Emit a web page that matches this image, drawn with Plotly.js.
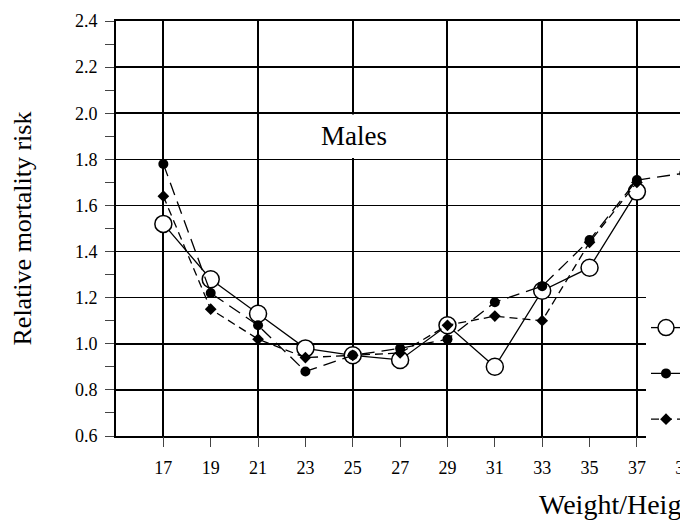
<!DOCTYPE html>
<html>
<head>
<meta charset="utf-8">
<script src="https://cdn.plot.ly/plotly-3.0.1.min.js"></script>
<style>
  html, body { margin: 0; padding: 0; background: #fff; }
  #wrap { width: 680px; height: 531px; overflow: hidden; position: relative; }
  #chart { width: 900px; height: 531px; }
</style>
</head>
<body>
<div id="wrap"><div id="chart"></div></div>
<script>
// Body-mass index categories (Weight/Height^2)
const bmiOpen = [17, 19, 21, 23, 25, 27, 29, 31, 33, 35, 37];
const riskOpen = [1.52, 1.28, 1.13, 0.98, 0.95, 0.93, 1.08, 0.90, 1.23, 1.33, 1.66];

const bmiFilled = [17, 19, 21, 23, 25, 27, 29, 31, 33, 35, 37, 39];
const riskFilled = [1.78, 1.22, 1.08, 0.88, 0.95, 0.98, 1.02, 1.18, 1.25, 1.45, 1.71, 1.74];

const bmiDiamond = [17, 19, 21, 23, 25, 27, 29, 31, 33, 35, 37];
const riskDiamond = [1.64, 1.15, 1.02, 0.94, 0.95, 0.96, 1.08, 1.12, 1.10, 1.44, 1.70];

const xTickVals = [17, 19, 21, 23, 25, 27, 29, 31, 33, 35, 37, 39, 41, 43, 45];
const xGridVals = [17, 21, 25, 29, 33, 37, 41, 45];
const yTickVals = [0.6, 0.8, 1.0, 1.2, 1.4, 1.6, 1.8, 2.0, 2.2, 2.4];
const yTickText = ['0.6', '0.8', '1.0', '1.2', '1.4', '1.6', '1.8', '2.0', '2.2', '2.4'];

const seriesNames = ['Series 1', 'Series 2', 'Series 3'];
const panelLabel = 'Males';
const xTitle = 'Weight/Height\u00B2 (kg/m\u00B2)';
const yTitle = 'Relative mortality risk';

const serif = 'Liberation Serif';

const traces = [
  {
    x: bmiOpen, y: riskOpen, name: seriesNames[0], legendgroup: 'a',
    mode: 'lines+markers', type: 'scatter',
    line: { color: '#000', width: 1.3, dash: 'solid' },
    marker: { symbol: 'circle', size: 17, color: '#fff', line: { color: '#000', width: 1.5 } }
  },
  {
    x: bmiFilled, y: riskFilled, name: seriesNames[1], legendgroup: 'b',
    mode: 'lines+markers', type: 'scatter',
    line: { color: '#000', width: 1.3, dash: '13px,7px' },
    marker: { symbol: 'circle', size: 10, color: '#000' }
  },
  {
    x: bmiDiamond, y: riskDiamond, name: seriesNames[2], legendgroup: 'c',
    mode: 'lines+markers', type: 'scatter',
    line: { color: '#000', width: 1.3, dash: '8px,5px' },
    marker: { symbol: 'diamond', size: 9, color: '#000' }
  },
  { x: [null], y: [null], xaxis: 'x2', showlegend: false, type: 'scatter', mode: 'markers' }
];

const layout = {
  width: 900, height: 531,
  margin: { l: 116, r: 50, t: 21, b: 95 },
  font: { family: serif, size: 18, color: '#000' },
  showlegend: true,
  legend: {
    x: (646 - 116) / 734, y: 1 - (286 - 21) / 415, xanchor: 'left', yanchor: 'top',
    bgcolor: '#fff', borderwidth: 0,
    title: { text: ' ', font: { family: serif, size: 14 } },
    font: { family: serif, size: 26, color: '#000' },
    tracegroupgap: 9
  },
  xaxis: {
    range: [15, 46], tickvals: xTickVals, showgrid: false,
    ticks: 'outside', ticklen: 9, ticklabelstandoff: 5,
    showline: true, linewidth: 2, linecolor: '#000', mirror: true,
    tickfont: { family: serif, size: 18 }
  },
  xaxis2: {
    overlaying: 'x', anchor: 'y', range: [15, 46],
    tickvals: xGridVals, showgrid: true, gridcolor: '#000', gridwidth: 2,
    showticklabels: false, ticks: 'outside', ticklen: 9
  },
  yaxis: {
    range: [0.6, 2.4], tickvals: yTickVals, ticktext: yTickText,
    showgrid: true, gridcolor: '#000', gridwidth: 1.5,
    ticks: 'outside', ticklen: 9, ticklabelstandoff: 4,
    minor: { dtick: 0.1, ticks: 'outside', ticklen: 9 },
    showline: true, linewidth: 2, linecolor: '#000',
    tickfont: { family: serif, size: 18 }
  },
  shapes: [
    { type: 'rect', xref: 'x', yref: 'y', x0: 22.35, x1: 27.63, y0: 1.806, y1: 1.994,
      fillcolor: '#fff', line: { width: 0 }, layer: 'between' }
  ],
  annotations: [
    { text: panelLabel, xref: 'x', yref: 'y', x: 25.05, y: 1.9, showarrow: false,
      font: { family: serif, size: 27, color: '#000' } },
    { text: yTitle, xref: 'paper', yref: 'paper', x: (22 - 116) / 734, y: 0.5,
      xanchor: 'center', yanchor: 'middle', textangle: -90, showarrow: false,
      font: { family: serif, size: 26, color: '#000' } },
    { text: xTitle, xref: 'paper', yref: 'paper', x: (537 - 116) / 734, y: -68 / 415,
      xanchor: 'left', yanchor: 'middle', showarrow: false,
      font: { family: serif, size: 28, color: '#000' } }
  ]
};

function fixTickFonts(gd) {
  gd.querySelectorAll('.xtick text, .ytick text').forEach(function (t) {
    t.style.fontFamily = '"Liberation Serif", serif';
    t.style.fontSize = '18px';
    t.style.fill = '#000';
  });
}

Plotly.newPlot('chart', traces, layout, { staticPlot: true }).then(function (gd) {
  fixTickFonts(gd);
  setTimeout(function () { fixTickFonts(gd); }, 50);
});
</script>
</body>
</html>
